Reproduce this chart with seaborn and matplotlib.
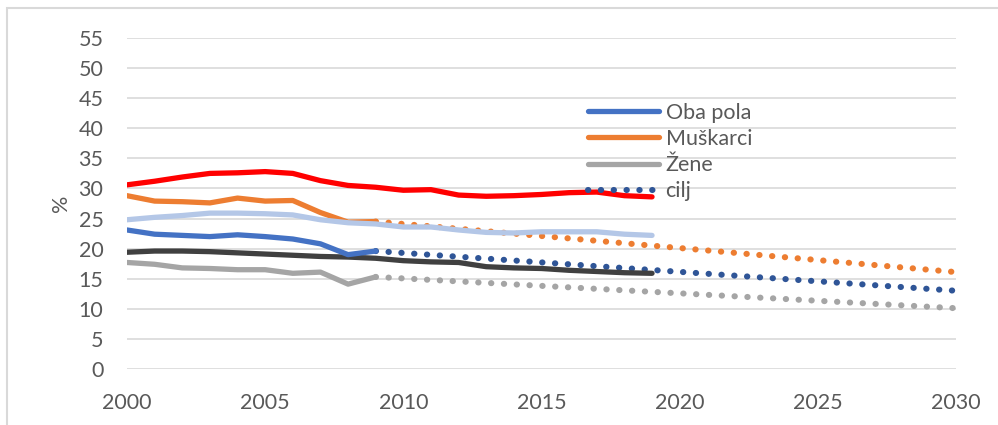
import numpy as np
import pandas as pd
import matplotlib
matplotlib.use("Agg")
import matplotlib.pyplot as plt
import seaborn as sns
from matplotlib.lines import Line2D
from matplotlib.patches import Rectangle

# godine
godine = list(range(2000, 2020))
godine_do_2009 = list(range(2000, 2010))

# serije (ocitano sa slike)
oba_pola = [23.1, 22.4, 22.2, 22.0, 22.3, 22.0, 21.6, 20.8, 19.0, 19.6]
muskarci = [28.8, 27.9, 27.8, 27.6, 28.4, 27.9, 28.0, 26.0, 24.4, 24.5]
zene = [17.7, 17.4, 16.8, 16.7, 16.5, 16.5, 15.9, 16.1, 14.1, 15.3]

crvena = [30.6, 31.2, 31.9, 32.5, 32.6, 32.8, 32.5, 31.3, 30.5, 30.2,
          29.7, 29.8, 28.9, 28.7, 28.8, 29.0, 29.3, 29.4, 28.8, 28.6]
svijetloplava = [24.8, 25.2, 25.5, 25.9, 25.9, 25.8, 25.6, 24.8, 24.3, 24.1,
                 23.6, 23.6, 23.1, 22.7, 22.6, 22.8, 22.8, 22.8, 22.4, 22.2]
crna = [19.4, 19.6, 19.6, 19.5, 19.3, 19.1, 18.9, 18.7, 18.6, 18.4,
        18.0, 17.8, 17.7, 17.0, 16.8, 16.7, 16.4, 16.2, 16.0, 15.9]

# ciljne putanje (isprekidano)
cilj_godine = [2009, 2030]
cilj_oba = [19.6, 13.0]
cilj_muskarci = [24.5, 16.1]
cilj_zene = [15.3, 10.1]

plavo = "#4472C4"
narandzasto = "#ED7D31"
sivo = "#A5A5A5"
tamnoplavo = "#2F5597"

sns.set_theme(style="white")
plt.rcParams["font.family"] = ["Lato", "DejaVu Sans"]
txt = "#595959"
fs = 15.5

fig = plt.figure(figsize=(9.98, 4.25), dpi=100)
ax = fig.add_axes([127/998, 1-369/425, (956-127)/998, (369-38)/425])

df = pd.DataFrame({"godina": godine, "crvena": crvena,
                   "svijetloplava": svijetloplava, "crna": crna})
df09 = pd.DataFrame({"godina": godine_do_2009, "oba": oba_pola,
                     "musk": muskarci, "zene": zene})
dfc = pd.DataFrame({"godina": cilj_godine, "oba": cilj_oba,
                    "musk": cilj_muskarci, "zene": cilj_zene})

dot = dict(lw=4.4, linestyle=(0, (0.05, 2.05)), dash_capstyle="round")
sns.lineplot(data=dfc, x="godina", y="musk", color=narandzasto, ax=ax, **dot)
sns.lineplot(data=dfc, x="godina", y="zene", color=sivo, ax=ax, **dot)
sns.lineplot(data=dfc, x="godina", y="oba", color=tamnoplavo, ax=ax, **dot)

sol = dict(lw=3.8, solid_capstyle="round", solid_joinstyle="round")
sns.lineplot(data=df09, x="godina", y="musk", color=narandzasto, ax=ax, **sol)
sns.lineplot(data=df09, x="godina", y="zene", color=sivo, ax=ax, **sol)
sns.lineplot(data=df, x="godina", y="svijetloplava", color="#B4C7E7", ax=ax, **sol)
sns.lineplot(data=df, x="godina", y="crna", color="#404040", ax=ax, **sol)
sns.lineplot(data=df09, x="godina", y="oba", color=plavo, ax=ax, **sol)
sns.lineplot(data=df, x="godina", y="crvena", color="#FF0000", ax=ax, **sol)

ax.set_xlim(2000, 2030)
ax.set_ylim(0, 55)
ax.set_xticks(range(2000, 2031, 5))
ax.set_yticks(range(0, 56, 5))
ax.grid(axis="y", color="#D9D9D9", lw=1.2)
ax.set_axisbelow(True)
for s in ax.spines.values():
    s.set_visible(False)
ax.tick_params(axis="both", length=0, labelsize=fs, labelcolor=txt)
ax.tick_params(axis="y", pad=17)
ax.tick_params(axis="x", pad=17)
ax.set_xlabel("")
ax.set_ylabel("%", fontsize=fs, color=txt, labelpad=5)
for t in ax.get_xticklabels():
    t.set_clip_on(False)

handles = [
    Line2D([], [], color=plavo, lw=3.8, solid_capstyle="round"),
    Line2D([], [], color=narandzasto, lw=3.8, solid_capstyle="round"),
    Line2D([], [], color=sivo, lw=3.8, solid_capstyle="round"),
    Line2D([], [], color=tamnoplavo, **dot),
]
labels = ["Oba pola", "Muškarci", "Žene", "cilj"]
leg = fig.legend(handles, labels, loc="upper left",
                 bbox_to_anchor=(588/998, 1-103/425), frameon=False,
                 fontsize=fs, handlelength=3.3, handletextpad=0.3,
                 labelspacing=0.28, borderaxespad=0, borderpad=0)
for t in leg.get_texts():
    t.set_color(txt)

fig.patches.append(Rectangle((7/998, -0.1), 1.0, (425-8)/425 + 0.1,
                             transform=fig.transFigure, fill=False,
                             edgecolor="#D9D9D9", lw=1.5))

fig.savefig("out.png", dpi=100)
